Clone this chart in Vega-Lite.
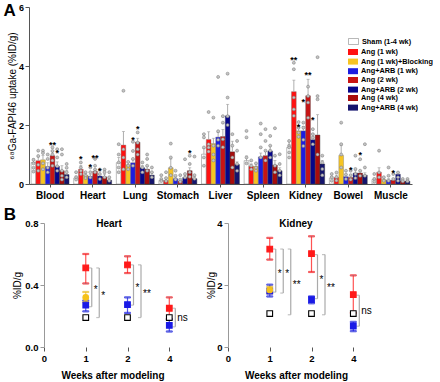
{
  "$schema": "https://vega.github.io/schema/vega-lite/v6.json",
  "padding": {"left": 3, "top": 2, "right": 0, "bottom": 0},
  "config": {
    "font": "Liberation Sans",
    "view": {"stroke": null},
    "axis": {"grid": false, "labelColor": "#000", "titleColor": "#000", "domainColor": "#555", "tickColor": "#555"},
    "legend": {"labelColor": "#000"}
  },
  "datasets": {
    "organs": [
      {"organ": "Blood", "group": "Sham (1-4 wk)", "value": 0.73, "err": 0.85},
      {"organ": "Blood", "group": "Ang (1 wk)", "value": 0.79, "err": 0.92},
      {"organ": "Blood", "group": "Ang (1 wk)+Blocking", "value": 0.82, "err": 0.97},
      {"organ": "Blood", "group": "Ang+ARB (1 wk)", "value": 0.59, "err": 0.72},
      {"organ": "Blood", "group": "Ang (2 wk)", "value": 0.96, "err": 1.1},
      {"organ": "Blood", "group": "Ang+ARB (2 wk)", "value": 0.6, "err": 0.75},
      {"organ": "Blood", "group": "Ang (4 wk)", "value": 0.45, "err": 0.62},
      {"organ": "Blood", "group": "Ang+ARB (4 wk)", "value": 0.32, "err": 0.45},
      {"organ": "Heart", "group": "Sham (1-4 wk)", "value": 0.2, "err": 0.27},
      {"organ": "Heart", "group": "Ang (1 wk)", "value": 0.5, "err": 0.62},
      {"organ": "Heart", "group": "Ang (1 wk)+Blocking", "value": 0.3, "err": 0.36},
      {"organ": "Heart", "group": "Ang+ARB (1 wk)", "value": 0.26, "err": 0.33},
      {"organ": "Heart", "group": "Ang (2 wk)", "value": 0.43, "err": 0.5},
      {"organ": "Heart", "group": "Ang+ARB (2 wk)", "value": 0.27, "err": 0.33},
      {"organ": "Heart", "group": "Ang (4 wk)", "value": 0.24, "err": 0.33},
      {"organ": "Heart", "group": "Ang+ARB (4 wk)", "value": 0.13, "err": 0.18},
      {"organ": "Lung", "group": "Sham (1-4 wk)", "value": 0.72, "err": 0.9},
      {"organ": "Lung", "group": "Ang (1 wk)", "value": 1.32, "err": 1.78},
      {"organ": "Lung", "group": "Ang (1 wk)+Blocking", "value": 0.65, "err": 0.75},
      {"organ": "Lung", "group": "Ang+ARB (1 wk)", "value": 0.72, "err": 0.82},
      {"organ": "Lung", "group": "Ang (2 wk)", "value": 1.42, "err": 1.55},
      {"organ": "Lung", "group": "Ang+ARB (2 wk)", "value": 0.55, "err": 0.62},
      {"organ": "Lung", "group": "Ang (4 wk)", "value": 0.5, "err": 0.6},
      {"organ": "Lung", "group": "Ang+ARB (4 wk)", "value": 0.3, "err": 0.38},
      {"organ": "Stomach", "group": "Sham (1-4 wk)", "value": 0.12, "err": 0.16},
      {"organ": "Stomach", "group": "Ang (1 wk)", "value": 0.12, "err": 0.17},
      {"organ": "Stomach", "group": "Ang (1 wk)+Blocking", "value": 0.55, "err": 0.85},
      {"organ": "Stomach", "group": "Ang+ARB (1 wk)", "value": 0.18, "err": 0.22},
      {"organ": "Stomach", "group": "Ang (2 wk)", "value": 0.1, "err": 0.14},
      {"organ": "Stomach", "group": "Ang+ARB (2 wk)", "value": 0.22, "err": 0.28},
      {"organ": "Stomach", "group": "Ang (4 wk)", "value": 0.45, "err": 0.55},
      {"organ": "Stomach", "group": "Ang+ARB (4 wk)", "value": 0.18, "err": 0.25},
      {"organ": "Liver", "group": "Sham (1-4 wk)", "value": 1.01, "err": 1.2},
      {"organ": "Liver", "group": "Ang (1 wk)", "value": 1.51, "err": 1.77},
      {"organ": "Liver", "group": "Ang (1 wk)+Blocking", "value": 1.37, "err": 1.55},
      {"organ": "Liver", "group": "Ang+ARB (1 wk)", "value": 1.59, "err": 1.75},
      {"organ": "Liver", "group": "Ang (2 wk)", "value": 1.61, "err": 1.85},
      {"organ": "Liver", "group": "Ang+ARB (2 wk)", "value": 2.31, "err": 2.7},
      {"organ": "Liver", "group": "Ang (4 wk)", "value": 1.09, "err": 1.45},
      {"organ": "Liver", "group": "Ang+ARB (4 wk)", "value": 0.66, "err": 0.75},
      {"organ": "Spleen", "group": "Sham (1-4 wk)", "value": 0.79, "err": 0.95},
      {"organ": "Spleen", "group": "Ang (1 wk)", "value": 0.6, "err": 0.68},
      {"organ": "Spleen", "group": "Ang (1 wk)+Blocking", "value": 0.6, "err": 0.68},
      {"organ": "Spleen", "group": "Ang+ARB (1 wk)", "value": 0.92, "err": 1.05},
      {"organ": "Spleen", "group": "Ang (2 wk)", "value": 0.96, "err": 1.1},
      {"organ": "Spleen", "group": "Ang+ARB (2 wk)", "value": 1.12, "err": 1.3},
      {"organ": "Spleen", "group": "Ang (4 wk)", "value": 0.64, "err": 0.8},
      {"organ": "Spleen", "group": "Ang+ARB (4 wk)", "value": 0.45, "err": 0.55},
      {"organ": "Kidney", "group": "Sham (1-4 wk)", "value": 1.24, "err": 1.45},
      {"organ": "Kidney", "group": "Ang (1 wk)", "value": 3.13, "err": 3.52},
      {"organ": "Kidney", "group": "Ang (1 wk)+Blocking", "value": 1.8, "err": 1.95},
      {"organ": "Kidney", "group": "Ang+ARB (1 wk)", "value": 1.8, "err": 1.95},
      {"organ": "Kidney", "group": "Ang (2 wk)", "value": 2.99, "err": 3.55},
      {"organ": "Kidney", "group": "Ang+ARB (2 wk)", "value": 1.5, "err": 1.6},
      {"organ": "Kidney", "group": "Ang (4 wk)", "value": 1.66, "err": 2.35},
      {"organ": "Kidney", "group": "Ang+ARB (4 wk)", "value": 0.68, "err": 0.8},
      {"organ": "Bowel", "group": "Sham (1-4 wk)", "value": 0.2, "err": 0.25},
      {"organ": "Bowel", "group": "Ang (1 wk)", "value": 0.22, "err": 0.3},
      {"organ": "Bowel", "group": "Ang (1 wk)+Blocking", "value": 0.97, "err": 1.3},
      {"organ": "Bowel", "group": "Ang+ARB (1 wk)", "value": 0.25, "err": 0.32},
      {"organ": "Bowel", "group": "Ang (2 wk)", "value": 0.22, "err": 0.3},
      {"organ": "Bowel", "group": "Ang+ARB (2 wk)", "value": 0.37, "err": 0.45},
      {"organ": "Bowel", "group": "Ang (4 wk)", "value": 0.37, "err": 0.45},
      {"organ": "Bowel", "group": "Ang+ARB (4 wk)", "value": 0.3, "err": 0.38},
      {"organ": "Muscle", "group": "Sham (1-4 wk)", "value": 0.15, "err": 0.2},
      {"organ": "Muscle", "group": "Ang (1 wk)", "value": 0.4, "err": 0.55},
      {"organ": "Muscle", "group": "Ang (1 wk)+Blocking", "value": 0.15, "err": 0.2},
      {"organ": "Muscle", "group": "Ang+ARB (1 wk)", "value": 0.13, "err": 0.18},
      {"organ": "Muscle", "group": "Ang (2 wk)", "value": 0.13, "err": 0.18},
      {"organ": "Muscle", "group": "Ang+ARB (2 wk)", "value": 0.33, "err": 0.4},
      {"organ": "Muscle", "group": "Ang (4 wk)", "value": 0.1, "err": 0.13},
      {"organ": "Muscle", "group": "Ang+ARB (4 wk)", "value": 0.1, "err": 0.13}
    ],
    "dots": [
      {"organ": "Blood", "group": "Sham (1-4 wk)", "v": 0.82}, {"organ": "Blood", "group": "Sham (1-4 wk)", "v": 0.7}, {"organ": "Blood", "group": "Sham (1-4 wk)", "v": 0.55}, {"organ": "Blood", "group": "Sham (1-4 wk)", "v": 0.42},
      {"organ": "Blood", "group": "Ang (1 wk)", "v": 1.13}, {"organ": "Blood", "group": "Ang (1 wk)", "v": 0.95}, {"organ": "Blood", "group": "Ang (1 wk)", "v": 0.65}, {"organ": "Blood", "group": "Ang (1 wk)", "v": 0.45},
      {"organ": "Blood", "group": "Ang (1 wk)+Blocking", "v": 1.13}, {"organ": "Blood", "group": "Ang (1 wk)+Blocking", "v": 1.05}, {"organ": "Blood", "group": "Ang (1 wk)+Blocking", "v": 0.7}, {"organ": "Blood", "group": "Ang (1 wk)+Blocking", "v": 0.5},
      {"organ": "Blood", "group": "Ang+ARB (1 wk)", "v": 1.0}, {"organ": "Blood", "group": "Ang+ARB (1 wk)", "v": 0.85}, {"organ": "Blood", "group": "Ang+ARB (1 wk)", "v": 0.55}, {"organ": "Blood", "group": "Ang+ARB (1 wk)", "v": 0.4},
      {"organ": "Blood", "group": "Ang (2 wk)", "v": 1.24}, {"organ": "Blood", "group": "Ang (2 wk)", "v": 1.12}, {"organ": "Blood", "group": "Ang (2 wk)", "v": 1.0}, {"organ": "Blood", "group": "Ang (2 wk)", "v": 0.8}, {"organ": "Blood", "group": "Ang (2 wk)", "v": 0.62},
      {"organ": "Blood", "group": "Ang+ARB (2 wk)", "v": 1.18}, {"organ": "Blood", "group": "Ang+ARB (2 wk)", "v": 0.9}, {"organ": "Blood", "group": "Ang+ARB (2 wk)", "v": 0.6}, {"organ": "Blood", "group": "Ang+ARB (2 wk)", "v": 0.45},
      {"organ": "Blood", "group": "Ang (4 wk)", "v": 1.18}, {"organ": "Blood", "group": "Ang (4 wk)", "v": 1.0}, {"organ": "Blood", "group": "Ang (4 wk)", "v": 0.45}, {"organ": "Blood", "group": "Ang (4 wk)", "v": 0.28}, {"organ": "Blood", "group": "Ang (4 wk)", "v": 0.15},
      {"organ": "Blood", "group": "Ang+ARB (4 wk)", "v": 0.68}, {"organ": "Blood", "group": "Ang+ARB (4 wk)", "v": 0.55}, {"organ": "Blood", "group": "Ang+ARB (4 wk)", "v": 0.4}, {"organ": "Blood", "group": "Ang+ARB (4 wk)", "v": 0.23},
      {"organ": "Heart", "group": "Sham (1-4 wk)", "v": 0.4}, {"organ": "Heart", "group": "Sham (1-4 wk)", "v": 0.23}, {"organ": "Heart", "group": "Sham (1-4 wk)", "v": 0.15},
      {"organ": "Heart", "group": "Ang (1 wk)", "v": 0.73}, {"organ": "Heart", "group": "Ang (1 wk)", "v": 0.56}, {"organ": "Heart", "group": "Ang (1 wk)", "v": 0.45}, {"organ": "Heart", "group": "Ang (1 wk)", "v": 0.34},
      {"organ": "Heart", "group": "Ang (1 wk)+Blocking", "v": 0.4}, {"organ": "Heart", "group": "Ang (1 wk)+Blocking", "v": 0.28}, {"organ": "Heart", "group": "Ang (1 wk)+Blocking", "v": 0.2},
      {"organ": "Heart", "group": "Ang+ARB (1 wk)", "v": 0.56}, {"organ": "Heart", "group": "Ang+ARB (1 wk)", "v": 0.4}, {"organ": "Heart", "group": "Ang+ARB (1 wk)", "v": 0.22},
      {"organ": "Heart", "group": "Ang (2 wk)", "v": 0.85}, {"organ": "Heart", "group": "Ang (2 wk)", "v": 0.62}, {"organ": "Heart", "group": "Ang (2 wk)", "v": 0.49}, {"organ": "Heart", "group": "Ang (2 wk)", "v": 0.4},
      {"organ": "Heart", "group": "Ang+ARB (2 wk)", "v": 0.49}, {"organ": "Heart", "group": "Ang+ARB (2 wk)", "v": 0.34}, {"organ": "Heart", "group": "Ang+ARB (2 wk)", "v": 0.17},
      {"organ": "Heart", "group": "Ang (4 wk)", "v": 0.49}, {"organ": "Heart", "group": "Ang (4 wk)", "v": 0.4}, {"organ": "Heart", "group": "Ang (4 wk)", "v": 0.23},
      {"organ": "Heart", "group": "Ang+ARB (4 wk)", "v": 0.4}, {"organ": "Heart", "group": "Ang+ARB (4 wk)", "v": 0.23}, {"organ": "Heart", "group": "Ang+ARB (4 wk)", "v": 0.11},
      {"organ": "Lung", "group": "Sham (1-4 wk)", "v": 1.35}, {"organ": "Lung", "group": "Sham (1-4 wk)", "v": 1.0}, {"organ": "Lung", "group": "Sham (1-4 wk)", "v": 0.73}, {"organ": "Lung", "group": "Sham (1-4 wk)", "v": 0.56}, {"organ": "Lung", "group": "Sham (1-4 wk)", "v": 0.4},
      {"organ": "Lung", "group": "Ang (1 wk)", "v": 3.16}, {"organ": "Lung", "group": "Ang (1 wk)", "v": 1.18}, {"organ": "Lung", "group": "Ang (1 wk)", "v": 0.9}, {"organ": "Lung", "group": "Ang (1 wk)", "v": 0.5},
      {"organ": "Lung", "group": "Ang (1 wk)+Blocking", "v": 0.75}, {"organ": "Lung", "group": "Ang (1 wk)+Blocking", "v": 0.62}, {"organ": "Lung", "group": "Ang (1 wk)+Blocking", "v": 0.5},
      {"organ": "Lung", "group": "Ang+ARB (1 wk)", "v": 1.43}, {"organ": "Lung", "group": "Ang+ARB (1 wk)", "v": 1.12}, {"organ": "Lung", "group": "Ang+ARB (1 wk)", "v": 0.85}, {"organ": "Lung", "group": "Ang+ARB (1 wk)", "v": 0.62},
      {"organ": "Lung", "group": "Ang (2 wk)", "v": 1.75}, {"organ": "Lung", "group": "Ang (2 wk)", "v": 1.4}, {"organ": "Lung", "group": "Ang (2 wk)", "v": 1.18}, {"organ": "Lung", "group": "Ang (2 wk)", "v": 1.0},
      {"organ": "Lung", "group": "Ang+ARB (2 wk)", "v": 0.73}, {"organ": "Lung", "group": "Ang+ARB (2 wk)", "v": 0.56}, {"organ": "Lung", "group": "Ang+ARB (2 wk)", "v": 0.4},
      {"organ": "Lung", "group": "Ang (4 wk)", "v": 1.0}, {"organ": "Lung", "group": "Ang (4 wk)", "v": 0.85}, {"organ": "Lung", "group": "Ang (4 wk)", "v": 0.62}, {"organ": "Lung", "group": "Ang (4 wk)", "v": 0.45},
      {"organ": "Lung", "group": "Ang+ARB (4 wk)", "v": 0.56}, {"organ": "Lung", "group": "Ang+ARB (4 wk)", "v": 0.4}, {"organ": "Lung", "group": "Ang+ARB (4 wk)", "v": 0.23},
      {"organ": "Stomach", "group": "Sham (1-4 wk)", "v": 0.3}, {"organ": "Stomach", "group": "Sham (1-4 wk)", "v": 0.17}, {"organ": "Stomach", "group": "Sham (1-4 wk)", "v": 0.1},
      {"organ": "Stomach", "group": "Ang (1 wk)", "v": 0.4}, {"organ": "Stomach", "group": "Ang (1 wk)", "v": 0.2}, {"organ": "Stomach", "group": "Ang (1 wk)", "v": 0.1},
      {"organ": "Stomach", "group": "Ang (1 wk)+Blocking", "v": 1.37}, {"organ": "Stomach", "group": "Ang (1 wk)+Blocking", "v": 0.9}, {"organ": "Stomach", "group": "Ang (1 wk)+Blocking", "v": 0.55}, {"organ": "Stomach", "group": "Ang (1 wk)+Blocking", "v": 0.3},
      {"organ": "Stomach", "group": "Ang+ARB (1 wk)", "v": 0.45}, {"organ": "Stomach", "group": "Ang+ARB (1 wk)", "v": 0.28}, {"organ": "Stomach", "group": "Ang+ARB (1 wk)", "v": 0.15},
      {"organ": "Stomach", "group": "Ang (2 wk)", "v": 0.3}, {"organ": "Stomach", "group": "Ang (2 wk)", "v": 0.15}, {"organ": "Stomach", "group": "Ang (2 wk)", "v": 0.08},
      {"organ": "Stomach", "group": "Ang+ARB (2 wk)", "v": 0.84}, {"organ": "Stomach", "group": "Ang+ARB (2 wk)", "v": 0.34}, {"organ": "Stomach", "group": "Ang+ARB (2 wk)", "v": 0.22},
      {"organ": "Stomach", "group": "Ang (4 wk)", "v": 0.96}, {"organ": "Stomach", "group": "Ang (4 wk)", "v": 0.68}, {"organ": "Stomach", "group": "Ang (4 wk)", "v": 0.4}, {"organ": "Stomach", "group": "Ang (4 wk)", "v": 0.25},
      {"organ": "Stomach", "group": "Ang+ARB (4 wk)", "v": 0.93}, {"organ": "Stomach", "group": "Ang+ARB (4 wk)", "v": 0.3}, {"organ": "Stomach", "group": "Ang+ARB (4 wk)", "v": 0.18},
      {"organ": "Liver", "group": "Sham (1-4 wk)", "v": 1.69}, {"organ": "Liver", "group": "Sham (1-4 wk)", "v": 1.58}, {"organ": "Liver", "group": "Sham (1-4 wk)", "v": 1.24}, {"organ": "Liver", "group": "Sham (1-4 wk)", "v": 0.9}, {"organ": "Liver", "group": "Sham (1-4 wk)", "v": 0.62},
      {"organ": "Liver", "group": "Ang (1 wk)", "v": 2.44}, {"organ": "Liver", "group": "Ang (1 wk)", "v": 1.35}, {"organ": "Liver", "group": "Ang (1 wk)", "v": 1.24}, {"organ": "Liver", "group": "Ang (1 wk)", "v": 1.1},
      {"organ": "Liver", "group": "Ang (1 wk)+Blocking", "v": 2.25}, {"organ": "Liver", "group": "Ang (1 wk)+Blocking", "v": 1.3}, {"organ": "Liver", "group": "Ang (1 wk)+Blocking", "v": 1.0}, {"organ": "Liver", "group": "Ang (1 wk)+Blocking", "v": 0.8},
      {"organ": "Liver", "group": "Ang+ARB (1 wk)", "v": 3.63}, {"organ": "Liver", "group": "Ang+ARB (1 wk)", "v": 1.79}, {"organ": "Liver", "group": "Ang+ARB (1 wk)", "v": 1.5}, {"organ": "Liver", "group": "Ang+ARB (1 wk)", "v": 1.3},
      {"organ": "Liver", "group": "Ang (2 wk)", "v": 2.3}, {"organ": "Liver", "group": "Ang (2 wk)", "v": 2.08}, {"organ": "Liver", "group": "Ang (2 wk)", "v": 1.52}, {"organ": "Liver", "group": "Ang (2 wk)", "v": 1.25},
      {"organ": "Liver", "group": "Ang+ARB (2 wk)", "v": 3.74}, {"organ": "Liver", "group": "Ang+ARB (2 wk)", "v": 2.93}, {"organ": "Liver", "group": "Ang+ARB (2 wk)", "v": 2.3}, {"organ": "Liver", "group": "Ang+ARB (2 wk)", "v": 2.0},
      {"organ": "Liver", "group": "Ang (4 wk)", "v": 1.69}, {"organ": "Liver", "group": "Ang (4 wk)", "v": 1.3}, {"organ": "Liver", "group": "Ang (4 wk)", "v": 0.9}, {"organ": "Liver", "group": "Ang (4 wk)", "v": 0.56},
      {"organ": "Liver", "group": "Ang+ARB (4 wk)", "v": 1.46}, {"organ": "Liver", "group": "Ang+ARB (4 wk)", "v": 1.13}, {"organ": "Liver", "group": "Ang+ARB (4 wk)", "v": 0.68}, {"organ": "Liver", "group": "Ang+ARB (4 wk)", "v": 0.45},
      {"organ": "Spleen", "group": "Sham (1-4 wk)", "v": 1.8}, {"organ": "Spleen", "group": "Sham (1-4 wk)", "v": 1.58}, {"organ": "Spleen", "group": "Sham (1-4 wk)", "v": 0.9}, {"organ": "Spleen", "group": "Sham (1-4 wk)", "v": 0.7},
      {"organ": "Spleen", "group": "Ang (1 wk)", "v": 0.8}, {"organ": "Spleen", "group": "Ang (1 wk)", "v": 0.62}, {"organ": "Spleen", "group": "Ang (1 wk)", "v": 0.5},
      {"organ": "Spleen", "group": "Ang (1 wk)+Blocking", "v": 0.7}, {"organ": "Spleen", "group": "Ang (1 wk)+Blocking", "v": 0.55}, {"organ": "Spleen", "group": "Ang (1 wk)+Blocking", "v": 0.45},
      {"organ": "Spleen", "group": "Ang+ARB (1 wk)", "v": 2.05}, {"organ": "Spleen", "group": "Ang+ARB (1 wk)", "v": 1.69}, {"organ": "Spleen", "group": "Ang+ARB (1 wk)", "v": 1.24}, {"organ": "Spleen", "group": "Ang+ARB (1 wk)", "v": 0.9},
      {"organ": "Spleen", "group": "Ang (2 wk)", "v": 1.86}, {"organ": "Spleen", "group": "Ang (2 wk)", "v": 1.46}, {"organ": "Spleen", "group": "Ang (2 wk)", "v": 1.13}, {"organ": "Spleen", "group": "Ang (2 wk)", "v": 0.8},
      {"organ": "Spleen", "group": "Ang+ARB (2 wk)", "v": 1.63}, {"organ": "Spleen", "group": "Ang+ARB (2 wk)", "v": 1.3}, {"organ": "Spleen", "group": "Ang+ARB (2 wk)", "v": 1.13}, {"organ": "Spleen", "group": "Ang+ARB (2 wk)", "v": 0.9},
      {"organ": "Spleen", "group": "Ang (4 wk)", "v": 1.89}, {"organ": "Spleen", "group": "Ang (4 wk)", "v": 0.96}, {"organ": "Spleen", "group": "Ang (4 wk)", "v": 0.62}, {"organ": "Spleen", "group": "Ang (4 wk)", "v": 0.4},
      {"organ": "Spleen", "group": "Ang+ARB (4 wk)", "v": 1.01}, {"organ": "Spleen", "group": "Ang+ARB (4 wk)", "v": 0.68}, {"organ": "Spleen", "group": "Ang+ARB (4 wk)", "v": 0.45}, {"organ": "Spleen", "group": "Ang+ARB (4 wk)", "v": 0.3},
      {"organ": "Kidney", "group": "Sham (1-4 wk)", "v": 1.46}, {"organ": "Kidney", "group": "Sham (1-4 wk)", "v": 1.3}, {"organ": "Kidney", "group": "Sham (1-4 wk)", "v": 1.24}, {"organ": "Kidney", "group": "Sham (1-4 wk)", "v": 1.07}, {"organ": "Kidney", "group": "Sham (1-4 wk)", "v": 0.9},
      {"organ": "Kidney", "group": "Ang (1 wk)", "v": 4.11}, {"organ": "Kidney", "group": "Ang (1 wk)", "v": 3.89}, {"organ": "Kidney", "group": "Ang (1 wk)", "v": 2.93}, {"organ": "Kidney", "group": "Ang (1 wk)", "v": 2.53}, {"organ": "Kidney", "group": "Ang (1 wk)", "v": 2.31},
      {"organ": "Kidney", "group": "Ang (1 wk)+Blocking", "v": 2.1}, {"organ": "Kidney", "group": "Ang (1 wk)+Blocking", "v": 1.91}, {"organ": "Kidney", "group": "Ang (1 wk)+Blocking", "v": 1.74}, {"organ": "Kidney", "group": "Ang (1 wk)+Blocking", "v": 1.6},
      {"organ": "Kidney", "group": "Ang+ARB (1 wk)", "v": 2.08}, {"organ": "Kidney", "group": "Ang+ARB (1 wk)", "v": 1.91}, {"organ": "Kidney", "group": "Ang+ARB (1 wk)", "v": 1.5}, {"organ": "Kidney", "group": "Ang+ARB (1 wk)", "v": 1.29},
      {"organ": "Kidney", "group": "Ang (2 wk)", "v": 3.3}, {"organ": "Kidney", "group": "Ang (2 wk)", "v": 2.98}, {"organ": "Kidney", "group": "Ang (2 wk)", "v": 2.76}, {"organ": "Kidney", "group": "Ang (2 wk)", "v": 2.25},
      {"organ": "Kidney", "group": "Ang+ARB (2 wk)", "v": 1.86}, {"organ": "Kidney", "group": "Ang+ARB (2 wk)", "v": 1.69}, {"organ": "Kidney", "group": "Ang+ARB (2 wk)", "v": 1.57}, {"organ": "Kidney", "group": "Ang+ARB (2 wk)", "v": 1.35},
      {"organ": "Kidney", "group": "Ang (4 wk)", "v": 4.3}, {"organ": "Kidney", "group": "Ang (4 wk)", "v": 2.98}, {"organ": "Kidney", "group": "Ang (4 wk)", "v": 2.87}, {"organ": "Kidney", "group": "Ang (4 wk)", "v": 1.0},
      {"organ": "Kidney", "group": "Ang+ARB (4 wk)", "v": 0.96}, {"organ": "Kidney", "group": "Ang+ARB (4 wk)", "v": 0.73}, {"organ": "Kidney", "group": "Ang+ARB (4 wk)", "v": 0.51}, {"organ": "Kidney", "group": "Ang+ARB (4 wk)", "v": 0.3},
      {"organ": "Bowel", "group": "Sham (1-4 wk)", "v": 0.34}, {"organ": "Bowel", "group": "Sham (1-4 wk)", "v": 0.23}, {"organ": "Bowel", "group": "Sham (1-4 wk)", "v": 0.11},
      {"organ": "Bowel", "group": "Ang (1 wk)", "v": 0.39}, {"organ": "Bowel", "group": "Ang (1 wk)", "v": 0.23}, {"organ": "Bowel", "group": "Ang (1 wk)", "v": 0.12},
      {"organ": "Bowel", "group": "Ang (1 wk)+Blocking", "v": 2.08}, {"organ": "Bowel", "group": "Ang (1 wk)+Blocking", "v": 1.35}, {"organ": "Bowel", "group": "Ang (1 wk)+Blocking", "v": 1.0}, {"organ": "Bowel", "group": "Ang (1 wk)+Blocking", "v": 0.56},
      {"organ": "Bowel", "group": "Ang+ARB (1 wk)", "v": 0.45}, {"organ": "Bowel", "group": "Ang+ARB (1 wk)", "v": 0.32}, {"organ": "Bowel", "group": "Ang+ARB (1 wk)", "v": 0.17},
      {"organ": "Bowel", "group": "Ang (2 wk)", "v": 0.45}, {"organ": "Bowel", "group": "Ang (2 wk)", "v": 0.3}, {"organ": "Bowel", "group": "Ang (2 wk)", "v": 0.15},
      {"organ": "Bowel", "group": "Ang+ARB (2 wk)", "v": 0.96}, {"organ": "Bowel", "group": "Ang+ARB (2 wk)", "v": 0.51}, {"organ": "Bowel", "group": "Ang+ARB (2 wk)", "v": 0.34}, {"organ": "Bowel", "group": "Ang+ARB (2 wk)", "v": 0.2},
      {"organ": "Bowel", "group": "Ang (4 wk)", "v": 0.84}, {"organ": "Bowel", "group": "Ang (4 wk)", "v": 0.45}, {"organ": "Bowel", "group": "Ang (4 wk)", "v": 0.28},
      {"organ": "Bowel", "group": "Ang+ARB (4 wk)", "v": 1.35}, {"organ": "Bowel", "group": "Ang+ARB (4 wk)", "v": 0.56}, {"organ": "Bowel", "group": "Ang+ARB (4 wk)", "v": 0.28},
      {"organ": "Muscle", "group": "Sham (1-4 wk)", "v": 0.34}, {"organ": "Muscle", "group": "Sham (1-4 wk)", "v": 0.17}, {"organ": "Muscle", "group": "Sham (1-4 wk)", "v": 0.08},
      {"organ": "Muscle", "group": "Ang (1 wk)", "v": 1.13}, {"organ": "Muscle", "group": "Ang (1 wk)", "v": 0.39}, {"organ": "Muscle", "group": "Ang (1 wk)", "v": 0.23},
      {"organ": "Muscle", "group": "Ang (1 wk)+Blocking", "v": 0.23}, {"organ": "Muscle", "group": "Ang (1 wk)+Blocking", "v": 0.11},
      {"organ": "Muscle", "group": "Ang+ARB (1 wk)", "v": 0.56}, {"organ": "Muscle", "group": "Ang+ARB (1 wk)", "v": 0.28}, {"organ": "Muscle", "group": "Ang+ARB (1 wk)", "v": 0.11},
      {"organ": "Muscle", "group": "Ang (2 wk)", "v": 0.34}, {"organ": "Muscle", "group": "Ang (2 wk)", "v": 0.17},
      {"organ": "Muscle", "group": "Ang+ARB (2 wk)", "v": 0.39}, {"organ": "Muscle", "group": "Ang+ARB (2 wk)", "v": 0.23}, {"organ": "Muscle", "group": "Ang+ARB (2 wk)", "v": 0.11},
      {"organ": "Muscle", "group": "Ang (4 wk)", "v": 0.17}, {"organ": "Muscle", "group": "Ang (4 wk)", "v": 0.09},
      {"organ": "Muscle", "group": "Ang+ARB (4 wk)", "v": 0.17}, {"organ": "Muscle", "group": "Ang+ARB (4 wk)", "v": 0.09}
    ],
    "starsA": [
      {"organ": "Blood", "group": "Ang (2 wk)", "at": 1.44, "label": "**"},
      {"organ": "Blood", "group": "Ang+ARB (2 wk)", "at": 1.16, "label": "*"},
      {"organ": "Heart", "group": "Ang (1 wk)", "at": 0.95, "label": "*"},
      {"organ": "Heart", "group": "Ang+ARB (1 wk)", "at": 0.68, "label": "*"},
      {"organ": "Heart", "group": "Ang (2 wk)", "at": 0.99, "label": "**"},
      {"organ": "Heart", "group": "Ang+ARB (2 wk)", "at": 0.53, "label": "*"},
      {"organ": "Lung", "group": "Ang+ARB (1 wk)", "at": 1.58, "label": "*"},
      {"organ": "Lung", "group": "Ang (2 wk)", "at": 1.97, "label": "*"},
      {"organ": "Stomach", "group": "Ang (4 wk)", "at": 1.15, "label": "*"},
      {"organ": "Kidney", "group": "Ang (1 wk)", "at": 4.31, "label": "**"},
      {"organ": "Kidney", "group": "Ang (1 wk)+Blocking", "at": 2.05, "label": "*"},
      {"organ": "Kidney", "group": "Ang+ARB (1 wk)", "at": 2.87, "label": "*"},
      {"organ": "Kidney", "group": "Ang (2 wk)", "at": 3.81, "label": "**"},
      {"organ": "Kidney", "group": "Ang+ARB (2 wk)", "at": 2.28, "label": "*"},
      {"organ": "Bowel", "group": "Ang (2 wk)", "at": 0.59, "label": "*"},
      {"organ": "Bowel", "group": "Ang (4 wk)", "at": 1.07, "label": "*"},
      {"organ": "Muscle", "group": "Ang (2 wk)", "at": 0.49, "label": "*"}
    ],
    "heart": [
      {"week": 1, "group": "Sham (1-4 wk)", "m": 0.19},
      {"week": 1, "group": "Ang", "m": 0.51, "lo": 0.41, "hi": 0.6},
      {"week": 1, "group": "Ang+ARB", "m": 0.27, "lo": 0.23, "hi": 0.3},
      {"week": 1, "group": "Ang+Blocking (1 wk)", "m": 0.32, "lo": 0.29, "hi": 0.355},
      {"week": 2, "group": "Sham (1-4 wk)", "m": 0.19},
      {"week": 2, "group": "Ang", "m": 0.53, "lo": 0.477, "hi": 0.585},
      {"week": 2, "group": "Ang+ARB", "m": 0.273, "lo": 0.22, "hi": 0.32},
      {"week": 4, "group": "Sham (1-4 wk)", "m": 0.19},
      {"week": 4, "group": "Ang", "m": 0.25, "lo": 0.18, "hi": 0.32},
      {"week": 4, "group": "Ang+ARB", "m": 0.14, "lo": 0.1, "hi": 0.18}
    ],
    "kidney": [
      {"week": 1, "group": "Sham (1-4 wk)", "m": 1.08},
      {"week": 1, "group": "Ang", "m": 3.16, "lo": 2.82, "hi": 3.52},
      {"week": 1, "group": "Ang+ARB", "m": 1.8, "lo": 1.63, "hi": 2.01},
      {"week": 1, "group": "Ang+Blocking (1 wk)", "m": 1.84, "lo": 1.73, "hi": 1.94},
      {"week": 2, "group": "Sham (1-4 wk)", "m": 1.08},
      {"week": 2, "group": "Ang", "m": 3.01, "lo": 2.42, "hi": 3.57},
      {"week": 2, "group": "Ang+ARB", "m": 1.53, "lo": 1.41, "hi": 1.63},
      {"week": 4, "group": "Sham (1-4 wk)", "m": 1.08},
      {"week": 4, "group": "Ang", "m": 1.69, "lo": 1.1, "hi": 2.31},
      {"week": 4, "group": "Ang+ARB", "m": 0.67, "lo": 0.51, "hi": 0.81}
    ],
    "heartTests": [
      {"week": 1, "rank": 1, "from": 0.51, "to": 0.26, "label": "*"},
      {"week": 1, "rank": 2, "from": 0.51, "to": 0.19, "label": "*"},
      {"week": 2, "rank": 1, "from": 0.53, "to": 0.27, "label": "*"},
      {"week": 2, "rank": 2, "from": 0.53, "to": 0.19, "label": "**"},
      {"week": 4, "rank": 1, "from": 0.25, "to": 0.13, "label": "ns"}
    ],
    "kidneyTests": [
      {"week": 1, "rank": 1, "from": 3.16, "to": 1.77, "label": "*"},
      {"week": 1, "rank": 2, "from": 3.16, "to": 1.74, "label": "*"},
      {"week": 1, "rank": 3, "from": 3.16, "to": 1.04, "label": "**"},
      {"week": 2, "rank": 1, "from": 2.98, "to": 1.56, "label": "*"},
      {"week": 2, "rank": 2, "from": 2.98, "to": 1.04, "label": "**"},
      {"week": 4, "rank": 1, "from": 1.67, "to": 0.67, "label": "ns"}
    ]
  },
  "spacing": 6,
  "vconcat": [
    {
      "width": 383,
      "height": 177,
      "title": {"text": "A", "anchor": "start", "frame": "bounds", "fontSize": 17, "fontWeight": "bold", "offset": -17, "dx": -4},
      "resolve": {"scale": {"color": "independent"}},
      "layer": [
        {
          "data": {"name": "organs"},
          "transform": [{"filter": "datum.group == 'Sham (1-4 wk)'"}],
          "mark": {"type": "bar", "stroke": "#777", "strokeWidth": 0.5},
          "encoding": {
            "x": {"field": "organ", "type": "nominal", "sort": ["Blood", "Heart", "Lung", "Stomach", "Liver", "Spleen", "Kidney", "Bowel", "Muscle"], "scale": {"paddingInner": 0.11, "paddingOuter": 0.05}, "axis": {"title": null, "labelAngle": 0, "labelFontSize": 10, "labelFontWeight": "bold", "tickSize": 3, "labelPadding": 3}},
            "xOffset": {"field": "group", "type": "nominal", "scale": {"domain": ["Sham (1-4 wk)", "Ang (1 wk)", "Ang (1 wk)+Blocking", "Ang+ARB (1 wk)", "Ang (2 wk)", "Ang+ARB (2 wk)", "Ang (4 wk)", "Ang+ARB (4 wk)"], "paddingInner": 0, "paddingOuter": 0}},
            "y": {"field": "value", "type": "quantitative", "scale": {"domain": [0, 6]}, "axis": {"values": [0, 2, 4, 6], "title": "⁶⁸Ga-FAPI46 uptake (%ID/g)", "titleFontSize": 10, "titleFontWeight": "normal", "titlePadding": 1, "labelPadding": 1.5, "labelFontSize": 9, "labelFontWeight": "bold", "tickSize": 4}},
            "color": {"field": "group", "type": "nominal", "scale": {"domain": ["Sham (1-4 wk)"], "range": ["#ffffff"]}, "legend": {"orient": "none", "legendX": 319, "legendY": 29, "title": null, "labelFontSize": 7.3, "labelFontWeight": "bold", "symbolType": "M-1,-0.6H1V0.6H-1Z", "symbolSize": 100, "symbolStrokeColor": "#888", "symbolStrokeWidth": 0.6, "rowPadding": 0.6, "labelOffset": 3}}
          }
        },
        {
          "data": {"name": "organs"},
          "transform": [{"filter": "indexof(['Ang (1 wk)', 'Ang (1 wk)+Blocking', 'Ang+ARB (1 wk)'], datum.group) >= 0"}],
          "mark": {"type": "bar", "stroke": "#777", "strokeWidth": 0.4},
          "encoding": {
            "x": {"field": "organ", "type": "nominal", "sort": ["Blood", "Heart", "Lung", "Stomach", "Liver", "Spleen", "Kidney", "Bowel", "Muscle"]},
            "xOffset": {"field": "group", "type": "nominal"},
            "y": {"field": "value", "type": "quantitative"},
            "color": {"field": "group", "type": "nominal", "scale": {"domain": ["Ang (1 wk)", "Ang (1 wk)+Blocking", "Ang+ARB (1 wk)"], "range": ["#ff1111", "#f6c423", "#1c1ce0"]}, "legend": {"orient": "none", "legendX": 319, "legendY": 40, "title": null, "labelFontSize": 7.3, "labelFontWeight": "bold", "symbolType": "M-1,-0.6H1V0.6H-1Z", "symbolSize": 100, "symbolStrokeWidth": 0, "rowPadding": 0.6, "labelOffset": 3}}
          }
        },
        {
          "data": {"name": "organs"},
          "transform": [{"filter": "indexof(['Ang (2 wk)', 'Ang+ARB (2 wk)'], datum.group) >= 0"}],
          "mark": {"type": "bar", "stroke": "#555", "strokeWidth": 0.4},
          "encoding": {
            "x": {"field": "organ", "type": "nominal", "sort": ["Blood", "Heart", "Lung", "Stomach", "Liver", "Spleen", "Kidney", "Bowel", "Muscle"]},
            "xOffset": {"field": "group", "type": "nominal"},
            "y": {"field": "value", "type": "quantitative"},
            "color": {"field": "group", "type": "nominal", "scale": {"domain": ["Ang (2 wk)", "Ang+ARB (2 wk)"], "range": ["#c81414", "#06068a"]}, "legend": {"orient": "none", "legendX": 319, "legendY": 68, "title": null, "labelFontSize": 7.3, "labelFontWeight": "bold", "symbolType": "M-1,-0.6H1V0.6H-1Z", "symbolSize": 100, "symbolStrokeWidth": 0, "rowPadding": 0.6, "labelOffset": 3}}
          }
        },
        {
          "data": {"name": "organs"},
          "transform": [{"filter": "indexof(['Ang (4 wk)', 'Ang+ARB (4 wk)'], datum.group) >= 0"}],
          "mark": {"type": "bar", "stroke": "#333", "strokeWidth": 0.4},
          "encoding": {
            "x": {"field": "organ", "type": "nominal", "sort": ["Blood", "Heart", "Lung", "Stomach", "Liver", "Spleen", "Kidney", "Bowel", "Muscle"]},
            "xOffset": {"field": "group", "type": "nominal"},
            "y": {"field": "value", "type": "quantitative"},
            "color": {"field": "group", "type": "nominal", "scale": {"domain": ["Ang (4 wk)", "Ang+ARB (4 wk)"], "range": ["#a80c0c", "#14146e"]}, "legend": {"orient": "none", "legendX": 319, "legendY": 86, "title": null, "labelFontSize": 7.3, "labelFontWeight": "bold", "symbolType": "M-1,-0.6H1V0.6H-1Z", "symbolSize": 100, "symbolStrokeWidth": 0, "rowPadding": 0.6, "labelOffset": 3}}
          }
        },
        {
          "data": {"name": "organs"},
          "mark": {"type": "rule", "color": "#999", "strokeWidth": 0.8},
          "encoding": {
            "x": {"field": "organ", "type": "nominal", "sort": ["Blood", "Heart", "Lung", "Stomach", "Liver", "Spleen", "Kidney", "Bowel", "Muscle"]},
            "xOffset": {"field": "group", "type": "nominal"},
            "y": {"field": "value", "type": "quantitative"},
            "y2": {"field": "err"}
          }
        },
        {
          "data": {"name": "organs"},
          "mark": {"type": "tick", "color": "#999", "thickness": 0.8, "size": 3, "orient": "horizontal"},
          "encoding": {
            "x": {"field": "organ", "type": "nominal", "sort": ["Blood", "Heart", "Lung", "Stomach", "Liver", "Spleen", "Kidney", "Bowel", "Muscle"]},
            "xOffset": {"field": "group", "type": "nominal"},
            "y": {"field": "err", "type": "quantitative"}
          }
        },
        {
          "data": {"name": "dots"},
          "mark": {"type": "point", "filled": true, "color": "#c4c4c4", "stroke": "#777", "strokeWidth": 0.5, "size": 9, "opacity": 1},
          "encoding": {
            "x": {"field": "organ", "type": "nominal", "sort": ["Blood", "Heart", "Lung", "Stomach", "Liver", "Spleen", "Kidney", "Bowel", "Muscle"]},
            "xOffset": {"field": "group", "type": "nominal"},
            "y": {"field": "v", "type": "quantitative"}
          }
        },
        {
          "data": {"name": "starsA"},
          "mark": {"type": "text", "fontSize": 9, "fontWeight": "bold", "baseline": "middle", "dy": 3, "color": "#000"},
          "encoding": {
            "x": {"field": "organ", "type": "nominal", "sort": ["Blood", "Heart", "Lung", "Stomach", "Liver", "Spleen", "Kidney", "Bowel", "Muscle"]},
            "xOffset": {"field": "group", "type": "nominal"},
            "y": {"field": "at", "type": "quantitative"},
            "text": {"field": "label"}
          }
        }
      ]
    },
    {
      "title": {"text": "B", "anchor": "start", "frame": "bounds", "fontSize": 17, "fontWeight": "bold", "offset": -6, "dx": -9},
      "spacing": 18,
      "resolve": {"scale": {"x": "independent", "y": "independent", "fill": "independent", "stroke": "independent", "shape": "independent"}},
      "hconcat": [
        {
          "width": 152,
          "height": 124,
          "title": {"text": "Heart", "fontSize": 10, "fontWeight": "bold", "offset": -11, "dx": 4},
          "layer": [
            {
              "data": {"name": "heartTests"},
              "mark": {"type": "rule", "color": "#aaa", "strokeWidth": 1.2, "xOffset": {"expr": "datum.rank == 1 ? 6 : datum.rank == 2 ? 13.5 : 21"}},
              "encoding": {
                "x": {"field": "week", "type": "quantitative", "scale": {"domain": [0, 2, 4, 4.56], "range": [15, 98.5, 140.3, 152], "nice": false, "zero": false}, "axis": {"values": [0, 1, 2, 4], "domain": false, "title": "Weeks after modeling", "titleFontSize": 10, "titleFontWeight": "bold", "titlePadding": 8, "labelFontSize": 9.5, "labelFontWeight": "bold", "tickSize": 4, "labelFlush": false}},
                "y": {"field": "from", "type": "quantitative", "scale": {"domain": [0, 0.8]}, "axis": {"values": [0, 0.4, 0.8], "format": ".1f", "offset": -15, "title": "%ID/g", "titleFontSize": 10, "titleFontWeight": "normal", "titlePadding": 2, "labelFontSize": 9.5, "labelFontWeight": "bold", "tickSize": 4, "domainColor": "#999", "tickColor": "#999"}},
                "y2": {"field": "to"}
              }
            },
            {
              "data": {"name": "heartTests"},
              "transform": [{"fold": ["from", "to"], "as": ["end", "v"]}],
              "mark": {"type": "tick", "orient": "horizontal", "size": 3, "thickness": 1.2, "color": "#aaa", "xOffset": {"expr": "datum.rank == 1 ? 4.5 : datum.rank == 2 ? 12 : 19.5"}},
              "encoding": {
                "x": {"field": "week", "type": "quantitative"},
                "y": {"field": "v", "type": "quantitative"}
              }
            },
            {
              "data": {"name": "heartTests"},
              "transform": [{"calculate": "(datum.from + datum.to) / 2", "as": "mid"}],
              "mark": {"type": "text", "fontSize": 10, "align": "left", "baseline": "middle", "color": "#000", "xOffset": {"expr": "datum.rank == 1 ? 8 : datum.rank == 2 ? 15.5 : 23"}, "dy": {"expr": "datum.label == 'ns' ? 0 : 3"}},
              "encoding": {
                "x": {"field": "week", "type": "quantitative"},
                "y": {"field": "mid", "type": "quantitative"},
                "text": {"field": "label"}
              }
            },
            {
              "mark": {"type": "rule", "color": "#555"},
              "encoding": {"x": {"datum": 0}, "x2": {"datum": 2.99}, "y": {"datum": 0}}
            },
            {
              "mark": {"type": "rule", "color": "#555"},
              "encoding": {"x": {"datum": 3.33}, "x2": {"datum": 4.56}, "y": {"datum": 0}}
            },
            {
              "mark": {"type": "rule", "color": "#555"},
              "encoding": {"x": {"datum": 2.99}, "y": {"datum": -0.018}, "y2": {"datum": 0.018}}
            },
            {
              "mark": {"type": "rule", "color": "#555"},
              "encoding": {"x": {"datum": 3.33}, "y": {"datum": -0.018}, "y2": {"datum": 0.018}}
            },
            {
              "data": {"name": "heart"},
              "transform": [{"filter": "isValid(datum.lo)"}],
              "mark": {"type": "rule", "strokeWidth": 1.2, "opacity": 0.75},
              "encoding": {
                "x": {"field": "week", "type": "quantitative"},
                "y": {"field": "lo", "type": "quantitative"},
                "y2": {"field": "hi"},
                "stroke": {"field": "group", "type": "nominal", "scale": {"domain": ["Sham (1-4 wk)", "Ang", "Ang+Blocking (1 wk)", "Ang+ARB"], "range": ["#000000", "#ff1a1a", "#f5c21b", "#1a1ae6"]}, "legend": null}
              }
            },
            {
              "data": {"name": "heart"},
              "transform": [{"filter": "isValid(datum.lo)"}, {"fold": ["lo", "hi"], "as": ["end", "v"]}],
              "mark": {"type": "tick", "orient": "horizontal", "size": 6, "thickness": 1.2, "opacity": 0.75},
              "encoding": {
                "x": {"field": "week", "type": "quantitative"},
                "y": {"field": "v", "type": "quantitative"},
                "stroke": {"field": "group", "type": "nominal", "legend": null}
              }
            },
            {
              "data": {"name": "heart"},
              "mark": {"type": "point", "filled": true, "size": 32, "strokeWidth": 1.1, "opacity": 1},
              "encoding": {
                "x": {"field": "week", "type": "quantitative"},
                "y": {"field": "m", "type": "quantitative"},
                "fill": {"field": "group", "type": "nominal", "scale": {"domain": ["Sham (1-4 wk)", "Ang", "Ang+Blocking (1 wk)", "Ang+ARB"], "range": ["#ffffff", "#ff1a1a", "#f5c21b", "#1a1ae6"]}, "legend": null},
                "stroke": {"field": "group", "type": "nominal", "legend": null},
                "shape": {"field": "group", "type": "nominal", "scale": {"domain": ["Sham (1-4 wk)", "Ang", "Ang+Blocking (1 wk)", "Ang+ARB"], "range": ["square", "square", "circle", "square"]}, "legend": null}
              }
            }
          ]
        },
        {
          "width": 136,
          "height": 124,
          "title": {"text": "Kidney", "fontSize": 10, "fontWeight": "bold", "offset": -11},
          "layer": [
            {
              "data": {"name": "kidneyTests"},
              "mark": {"type": "rule", "color": "#aaa", "strokeWidth": 1.2, "xOffset": {"expr": "datum.rank == 1 ? 6 : datum.rank == 2 ? 13.5 : 21"}},
              "encoding": {
                "x": {"field": "week", "type": "quantitative", "scale": {"domain": [0, 2, 4, 4.51], "range": [0, 83.5, 125.3, 136], "nice": false, "zero": false}, "axis": {"values": [0, 1, 2, 4], "domain": false, "title": "Weeks after modeling", "titleFontSize": 10, "titleFontWeight": "bold", "titlePadding": 8, "labelFontSize": 9.5, "labelFontWeight": "bold", "tickSize": 4, "labelFlush": false}},
                "y": {"field": "from", "type": "quantitative", "scale": {"domain": [0, 4]}, "axis": {"values": [0, 2, 4], "title": "%ID/g", "titleFontSize": 10, "titleFontWeight": "normal", "titlePadding": 0, "labelFontSize": 9.5, "labelFontWeight": "bold", "tickSize": 4, "domainColor": "#999", "tickColor": "#999"}},
                "y2": {"field": "to"}
              }
            },
            {
              "data": {"name": "kidneyTests"},
              "transform": [{"fold": ["from", "to"], "as": ["end", "v"]}],
              "mark": {"type": "tick", "orient": "horizontal", "size": 3, "thickness": 1.2, "color": "#aaa", "xOffset": {"expr": "datum.rank == 1 ? 4.5 : datum.rank == 2 ? 12 : 19.5"}},
              "encoding": {
                "x": {"field": "week", "type": "quantitative"},
                "y": {"field": "v", "type": "quantitative"}
              }
            },
            {
              "data": {"name": "kidneyTests"},
              "transform": [{"calculate": "(datum.from + datum.to) / 2", "as": "mid"}],
              "mark": {"type": "text", "fontSize": 10, "align": "left", "baseline": "middle", "color": "#000", "xOffset": {"expr": "datum.rank == 1 ? 8 : datum.rank == 2 ? 15.5 : 23"}, "dy": {"expr": "datum.label == 'ns' ? 0 : 3"}},
              "encoding": {
                "x": {"field": "week", "type": "quantitative"},
                "y": {"field": "mid", "type": "quantitative"},
                "text": {"field": "label"}
              }
            },
            {
              "mark": {"type": "rule", "color": "#555"},
              "encoding": {"x": {"datum": 0}, "x2": {"datum": 3.02}, "y": {"datum": 0}}
            },
            {
              "mark": {"type": "rule", "color": "#555"},
              "encoding": {"x": {"datum": 3.26}, "x2": {"datum": 4.51}, "y": {"datum": 0}}
            },
            {
              "mark": {"type": "rule", "color": "#555"},
              "encoding": {"x": {"datum": 3.02}, "y": {"datum": -0.09}, "y2": {"datum": 0.09}}
            },
            {
              "mark": {"type": "rule", "color": "#555"},
              "encoding": {"x": {"datum": 3.26}, "y": {"datum": -0.09}, "y2": {"datum": 0.09}}
            },
            {
              "data": {"name": "kidney"},
              "transform": [{"filter": "isValid(datum.lo)"}],
              "mark": {"type": "rule", "strokeWidth": 1.2, "opacity": 0.75},
              "encoding": {
                "x": {"field": "week", "type": "quantitative"},
                "y": {"field": "lo", "type": "quantitative"},
                "y2": {"field": "hi"},
                "stroke": {"field": "group", "type": "nominal", "scale": {"domain": ["Sham (1-4 wk)", "Ang", "Ang+Blocking (1 wk)", "Ang+ARB"], "range": ["#000000", "#ff1a1a", "#f5c21b", "#1a1ae6"]}, "legend": null}
              }
            },
            {
              "data": {"name": "kidney"},
              "transform": [{"filter": "isValid(datum.lo)"}, {"fold": ["lo", "hi"], "as": ["end", "v"]}],
              "mark": {"type": "tick", "orient": "horizontal", "size": 6, "thickness": 1.2, "opacity": 0.75},
              "encoding": {
                "x": {"field": "week", "type": "quantitative"},
                "y": {"field": "v", "type": "quantitative"},
                "stroke": {"field": "group", "type": "nominal", "legend": null}
              }
            },
            {
              "data": {"name": "kidney"},
              "mark": {"type": "point", "filled": true, "size": 32, "strokeWidth": 1.1, "opacity": 1},
              "encoding": {
                "x": {"field": "week", "type": "quantitative"},
                "y": {"field": "m", "type": "quantitative"},
                "fill": {"field": "group", "type": "nominal", "scale": {"domain": ["Sham (1-4 wk)", "Ang", "Ang+Blocking (1 wk)", "Ang+ARB"], "range": ["#ffffff", "#ff1a1a", "#f5c21b", "#1a1ae6"]}, "legend": {"orient": "none", "legendX": 126, "legendY": 2, "title": null, "labelFontSize": 9, "labelFontWeight": "bold", "symbolSize": 30, "rowPadding": 2, "labelOffset": 5, "symbolStrokeWidth": 1.1}},
                "stroke": {"field": "group", "type": "nominal", "legend": {"orient": "none", "legendX": 126, "legendY": 2, "title": null, "labelFontSize": 9, "labelFontWeight": "bold", "symbolSize": 30, "rowPadding": 2, "labelOffset": 5, "symbolStrokeWidth": 1.1}},
                "shape": {"field": "group", "type": "nominal", "scale": {"domain": ["Sham (1-4 wk)", "Ang", "Ang+Blocking (1 wk)", "Ang+ARB"], "range": ["square", "square", "circle", "square"]}, "legend": {"orient": "none", "legendX": 126, "legendY": 2, "title": null, "labelFontSize": 9, "labelFontWeight": "bold", "symbolSize": 30, "rowPadding": 2, "labelOffset": 5, "symbolStrokeWidth": 1.1}}
              }
            }
          ]
        }
      ]
    }
  ]
}
